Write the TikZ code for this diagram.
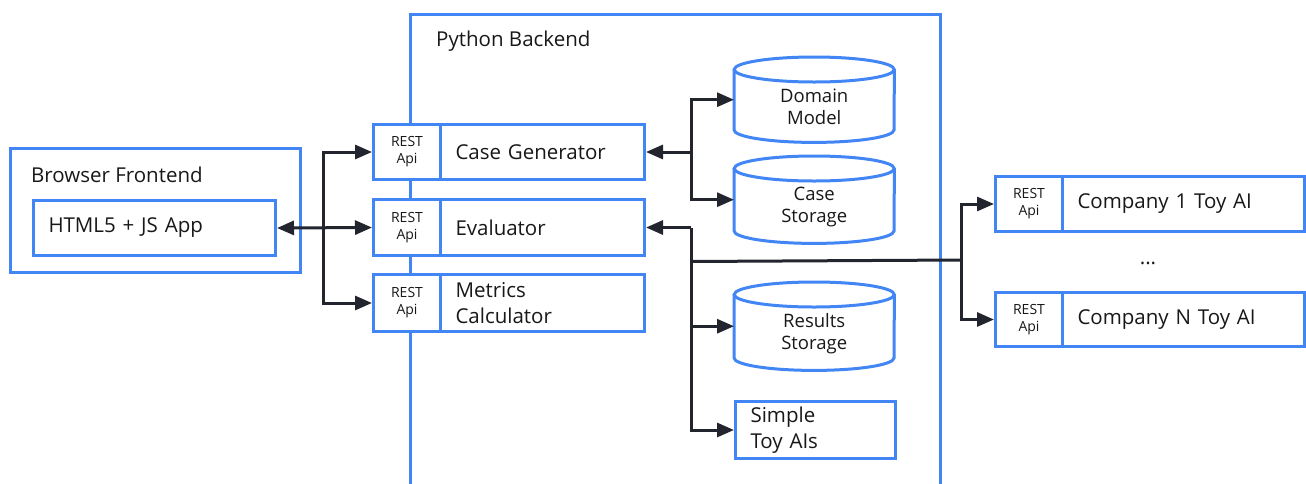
\documentclass[tikz,border=0pt]{standalone}
\usepackage{fontspec}
\setmainfont{Open Sans}
\usetikzlibrary{arrows.meta,calc}
\definecolor{bblue}{RGB}{66,133,244}
\definecolor{dline}{RGB}{34,37,46}
\definecolor{tcol}{RGB}{24,24,24}
\newcommand\fbig{\fontsize{20.5}{26}\selectfont}
\newcommand\fsmall{\fontsize{14}{17}\selectfont}
\newcommand\fcyl{\fontsize{18.5}{22}\selectfont}
\newcommand\drawcyl[1]{%
  \draw[frame] ($(#1.north west)+(0,12.5)$) -- ($(#1.south west)+(0,-12.5)$)
     arc[start angle=180,end angle=360,x radius=80pt,y radius=12.5pt]
     -- ($(#1.north east)+(0,12.5)$);
  \draw[frame] ($(#1.north)+(0,12.5)$) ellipse[x radius=80pt,y radius=12.5pt];
}
\begin{document}
\begin{tikzpicture}[x=1pt,y=-1pt,
  frame/.style={draw=bblue,line width=3pt},
  box/.style={draw=bblue,line width=3pt,fill=white,rectangle,inner sep=0pt,text=tcol},
  apibox/.style={box,minimum width=67pt,minimum height=55pt,anchor=north west,font=\fsmall,align=center},
  lbox/.style={box,anchor=north west,inner xsep=15pt,font=\fbig,align=left},
  cylnode/.style={anchor=north west,minimum width=160pt,inner sep=0pt},
  cyltext/.style={font=\fcyl,text=tcol,align=center,inner sep=0pt},
  con/.style={draw=dline,line width=3pt},
  tip/.style={-{Triangle[length=17pt,width=14pt]}},
  title/.style={font=\fbig,text=tcol,anchor=base west,inner sep=0pt},
]
\useasboundingbox (0,0) rectangle (1306,483);
\clip (0,0) rectangle (1306,483);

% frames
\node[frame,anchor=north west,minimum width=290pt,minimum height=124pt,inner sep=0pt] (fe) at (9,147) {};
\node[title] (fet) at (31,182) {Browser Frontend};
\node[frame,anchor=north west,minimum width=530pt,minimum height=520pt,inner sep=0pt] (pb) at (409,13) {};
\node[title] (pbt) at (436,46) {Python Backend};

% frontend app
\node[lbox,minimum width=242pt,minimum height=55pt,text width=212pt] (html) at (32,199) {HTML5 + JS App};

% backend services
\node[apibox] (cgapi) at (372,123) {REST\\Api};
\node[lbox,minimum width=204pt,minimum height=55pt,text width=174pt] (cg) at (439,123) {Case Generator};
\node[apibox,minimum height=56pt] (evapi) at (372,198) {REST\\Api};
\node[lbox,minimum width=204pt,minimum height=56pt,text width=174pt] (ev) at (439,198) {Evaluator};
\node[apibox,minimum height=57pt] (mcapi) at (372,273) {REST\\Api};
\node[lbox,minimum width=204pt,minimum height=57pt,text width=174pt] (mc) at (439,273) {Metrics\\Calculator};

% storages
\node[cylnode,minimum height=85pt] (dm) at (734,57) {};
\drawcyl{dm}
\node[cyltext] (dmt) at ($(dm.center)+(0,7)$) {Domain\\Model};
\node[cylnode,minimum height=87pt] (cs) at (734,156) {};
\drawcyl{cs}
\node[cyltext] (cst) at ($(cs.center)+(0,7)$) {Case\\Storage};
\node[cylnode,minimum height=88pt] (rs) at (734,282) {};
\drawcyl{rs}
\node[cyltext] (rst) at ($(rs.center)+(0,7)$) {Results\\Storage};
\node[lbox,minimum width=160pt,minimum height=57pt,text width=130pt] (toy) at (734,400) {Simple\\Toy AIs};

% companies
\node[apibox] (c1api) at (994,175) {REST\\Api};
\node[lbox,minimum width=242pt,minimum height=55pt,text width=212pt] (c1) at (1061,175) {Company 1 Toy AI};
\node[font=\fbig,text=tcol,anchor=base,inner sep=0pt] (dots) at (1148,264) {...};
\node[apibox,minimum height=54pt] (cnapi) at (994,291) {REST\\Api};
\node[lbox,minimum width=242pt,minimum height=54pt,text width=212pt] (cn) at (1061,291) {Company N Toy AI};

% connectors: frontend
\coordinate (fj) at (323,227);
\draw[con,{Triangle[length=17pt,width=14pt]}-{Triangle[length=17pt,width=14pt]}] (html.east) -- (evapi.west);
\draw[con,tip] (fj) |- (cgapi.west);
\draw[con,tip] (fj) |- (mcapi.west);

% connectors: case generator
\coordinate (cj) at ($(cg.east)+(45,0)$);
\draw[con,tip] (cj) -- (cg.east);
\draw[con,tip] (cj) |- (dm.west);
\draw[con,tip] (cj) |- (cs.west);

% connectors: evaluator
\coordinate (ej) at ($(ev.east)+(45,0)$);
\coordinate (hj) at ($(ej)+(0,34)$);
\coordinate (rj) at (961,260);
\draw[con,tip] (ej) -- (ev.east);
\draw[con,tip] (ej) |- (toy.west);
\draw[con,tip] (ej |- rs.west) -- (rs.west);
\draw[con] (hj) -- (rj);
\draw[con,tip] (rj) |- (c1api.west);
\draw[con,tip] (rj) |- (cnapi.west);
\end{tikzpicture}
\end{document}
